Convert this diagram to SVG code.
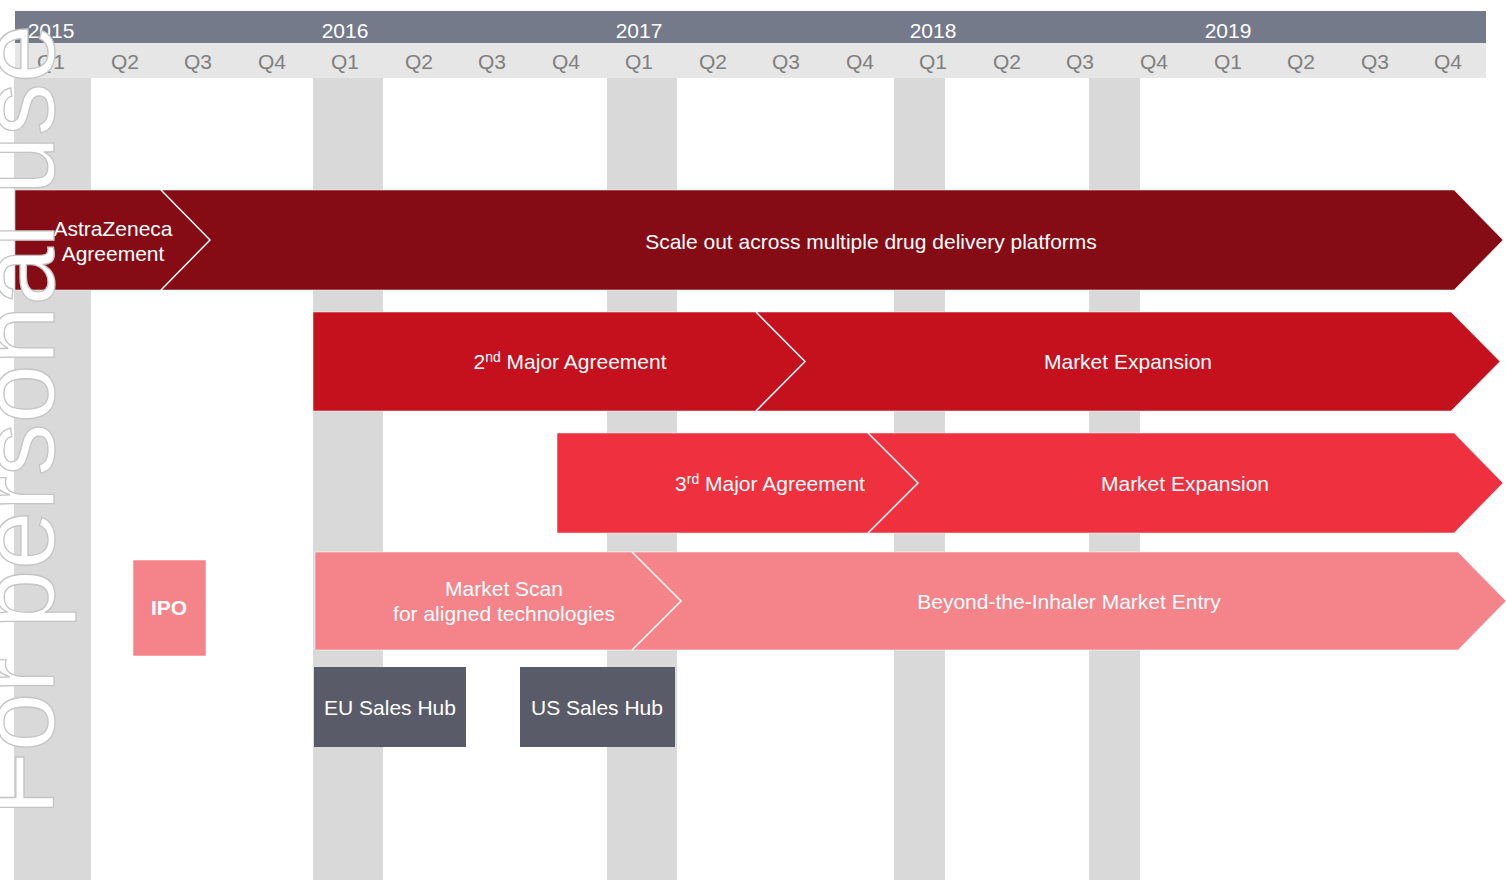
<svg xmlns="http://www.w3.org/2000/svg" width="1506" height="883" viewBox="0 0 1506 883">
<style>
text{font-family:"Liberation Sans",Arial,sans-serif;font-size:21px}
.yr{fill:#fff;text-anchor:middle}
.q{fill:#7f7f7f;text-anchor:middle}
.col{fill:#d9d9d9}
.lbl{fill:#fff;text-anchor:middle}
.arrow{stroke:#fff;stroke-opacity:0.5;stroke-width:1}
.sep{fill:none;stroke:#fff;stroke-width:1.5}
.hub{fill:#595c68}
.wm{font-size:105.5px;fill:#fff;stroke:#c4c4c4;stroke-width:1.3}
</style>
<rect width="1506" height="883" fill="#fff"/>
<g id="header">
<rect x="15" y="11" width="1471" height="32" fill="#757a8a"/>
<rect x="15" y="43" width="1471" height="35" fill="#e6e6e6"/>
<text class="yr" x="51" y="38">2015</text>
<text class="yr" x="345" y="38">2016</text>
<text class="yr" x="639" y="38">2017</text>
<text class="yr" x="933" y="38">2018</text>
<text class="yr" x="1228" y="38">2019</text>
<text class="q" x="51" y="69">Q1</text>
<text class="q" x="125" y="69">Q2</text>
<text class="q" x="198" y="69">Q3</text>
<text class="q" x="272" y="69">Q4</text>
<text class="q" x="345" y="69">Q1</text>
<text class="q" x="419" y="69">Q2</text>
<text class="q" x="492" y="69">Q3</text>
<text class="q" x="566" y="69">Q4</text>
<text class="q" x="639" y="69">Q1</text>
<text class="q" x="713" y="69">Q2</text>
<text class="q" x="786" y="69">Q3</text>
<text class="q" x="860" y="69">Q4</text>
<text class="q" x="933" y="69">Q1</text>
<text class="q" x="1007" y="69">Q2</text>
<text class="q" x="1080" y="69">Q3</text>
<text class="q" x="1154" y="69">Q4</text>
<text class="q" x="1228" y="69">Q1</text>
<text class="q" x="1301" y="69">Q2</text>
<text class="q" x="1375" y="69">Q3</text>
<text class="q" x="1448" y="69">Q4</text>
</g>
<g id="columns">
<rect class="col" x="14" y="78" width="77" height="802"/>
<rect class="col" x="313" y="78" width="70" height="802"/>
<rect class="col" x="607" y="78" width="70" height="802"/>
<rect class="col" x="894" y="78" width="51" height="802"/>
<rect class="col" x="1089" y="78" width="51" height="802"/>
</g>
<g id="row1">
<polygon class="arrow" fill="#850c15" points="15,190 1454,190 1503,240 1454,290 15,290"/>
<polyline class="sep" points="161,190 210,240 161,290"/>
<text class="lbl" x="113" y="236">AstraZeneca</text>
<text class="lbl" x="113" y="261">Agreement</text>
<text class="lbl" x="871" y="249">Scale out across multiple drug delivery platforms</text>
</g>
<g id="row2">
<polygon class="arrow" fill="#c5111d" points="313,312 1451,312 1500,361.5 1451,411 313,411"/>
<polyline class="sep" points="756,312 805,361.5 756,411"/>
<text class="lbl" x="570" y="369">2<tspan font-size="14" dy="-7">nd</tspan><tspan dy="7"> Major Agreement</tspan></text>
<text class="lbl" x="1128" y="369">Market Expansion</text>
</g>
<g id="row3">
<polygon class="arrow" fill="#ef303e" points="557,433 1454,433 1503,483 1454,533 557,533"/>
<polyline class="sep" points="868,433 918,483 868,533"/>
<text class="lbl" x="770" y="491">3<tspan font-size="14" dy="-7">rd</tspan><tspan dy="7"> Major Agreement</tspan></text>
<text class="lbl" x="1185" y="491">Market Expansion</text>
</g>
<g id="row4">
<polygon class="arrow" fill="#f4848a" points="315,552 1458,552 1506,601 1458,650 315,650"/>
<polyline class="sep" points="632,552 681,601 632,650"/>
<text class="lbl" x="504" y="596">Market Scan</text>
<text class="lbl" x="504" y="621">for aligned technologies</text>
<text class="lbl" x="1069" y="609">Beyond-the-Inhaler Market Entry</text>
</g>
<g id="ipo">
<rect x="133" y="560" width="73" height="96" fill="#f4848a" stroke="#fff" stroke-opacity="0.5"/>
<text class="lbl" x="169" y="615" font-weight="bold">IPO</text>
</g>
<g id="eu-hub">
<rect class="hub" x="314" y="667" width="152" height="80"/>
<text class="lbl" x="390" y="715">EU Sales Hub</text>
</g>
<g id="us-hub">
<rect class="hub" x="520" y="667" width="155" height="80"/>
<text class="lbl" x="597" y="715">US Sales Hub</text>
</g>
<g id="connectors"/>
<g id="watermark">
<text class="wm" transform="translate(54,816) rotate(-90)">For personal use</text>
</g>
</svg>
